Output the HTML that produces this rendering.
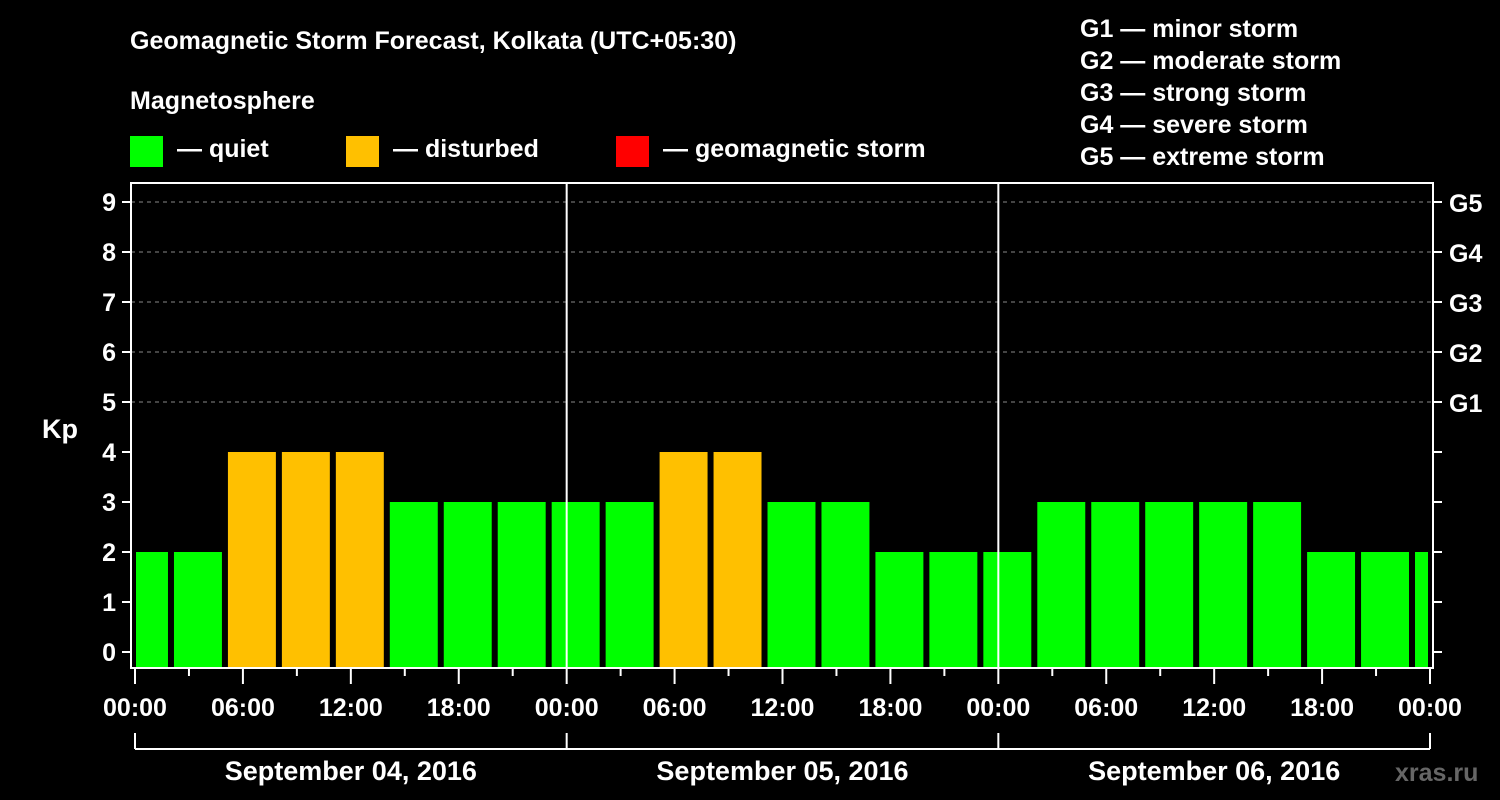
<!DOCTYPE html>
<html><head><meta charset="utf-8"><style>
html,body{margin:0;padding:0;background:#000;}
svg{display:block;font-family:"Liberation Sans",Arial,sans-serif;font-weight:bold;}
</style></head><body>
<svg id="chart" width="1500" height="800" viewBox="0 0 1500 800" xmlns="http://www.w3.org/2000/svg">
<rect width="1500" height="800" fill="#000"/>
<text x="130" y="49" fill="#fff" font-size="25">Geomagnetic Storm Forecast, Kolkata (UTC+05:30)</text>
<text x="130" y="109" fill="#fff" font-size="25">Magnetosphere</text>
<g>
<rect x="130" y="136" width="33" height="31" fill="#00ff00"/>
<text x="177" y="157" fill="#fff" font-size="25">— quiet</text>
<rect x="346" y="136" width="33" height="31" fill="#ffc000"/>
<text x="393" y="157" fill="#fff" font-size="25">— disturbed</text>
<rect x="616" y="136" width="33" height="31" fill="#ff0000"/>
<text x="663" y="157" fill="#fff" font-size="25">— geomagnetic storm</text>
</g>
<g fill="#fff" font-size="25">
<text x="1080" y="37">G1 — minor storm</text>
<text x="1080" y="69">G2 — moderate storm</text>
<text x="1080" y="101">G3 — strong storm</text>
<text x="1080" y="133">G4 — severe storm</text>
<text x="1080" y="165">G5 — extreme storm</text>
</g>
<text x="42" y="438" fill="#fff" font-size="27">Kp</text>
<text x="1395" y="781" fill="#666" font-size="25">xras.ru</text>
<g id="grid"></g>
<g id="bars"></g>
<g id="axes"></g>
</svg>
<script>
const kpValues = [2,2,4,4,4,3,3,3,3,3,4,4,3,3,2,2,2,3,3,3,3,3,2,2,2];
const firstBarStartHour = -1;
const yTicks = [0,1,2,3,4,5,6,7,8,9];
const gLabels = ["G1","G2","G3","G4","G5"];
const xTickLabels = ["00:00","06:00","12:00","18:00","00:00","06:00","12:00","18:00","00:00","06:00","12:00","18:00","00:00"];
const dayLabels = ["September 04, 2016","September 05, 2016","September 06, 2016"];

const NS = "http://www.w3.org/2000/svg";
const L = 131, R = 1433, T = 183, B = 668;
const X0 = 135, X1 = 1430, totalHours = 72;
const xs = h => X0 + (X1 - X0) * h / totalHours;
const ys = v => 652 - 50 * v;
function mk(parent, tag, attrs){const e=document.createElementNS(NS,tag);for(const k in attrs)e.setAttribute(k,attrs[k]);parent.appendChild(e);return e;}
const grid=document.getElementById('grid'), bars=document.getElementById('bars'), axes=document.getElementById('axes');

// gridlines for 5..9
yTicks.filter(v=>v>=5).forEach(v=>{
  const l=mk(grid,'line',{x1:L,x2:R,y1:ys(v),y2:ys(v),stroke:'#888','stroke-width':1,'stroke-dasharray':'4 4'});
  
  
});

// bars
kpValues.forEach((v,i)=>{
  const h0 = firstBarStartHour + 3*i;
  let x0 = xs(h0)+3, x1 = xs(h0+3)-3;
  x0 = Math.max(x0, L+5); x1 = Math.min(x1, R-5);
  const color = v>=5 ? '#ff0000' : (v>=4 ? '#ffc000' : '#00ff00');
  const r=mk(bars,'rect',{x:x0,y:ys(v),width:Math.max(0,x1-x0),height:B-ys(v),fill:color});
  
  
});

// day separators
[24,48].forEach(h=>{
  const l=mk(axes,'line',{x1:xs(h),x2:xs(h),y1:T,y2:B,stroke:'#fff','stroke-width':2});
  
  
});

// frame
const fr=mk(axes,'rect',{x:L,y:T,width:R-L,height:B-T,fill:'none',stroke:'#fff','stroke-width':2});



// y ticks
yTicks.forEach(v=>{
  const y=ys(v);
  mk(axes,'line',{x1:L-9,x2:L,y1:y,y2:y,stroke:'#fff','stroke-width':2});
  mk(axes,'line',{x1:R,x2:R+9,y1:y,y2:y,stroke:'#fff','stroke-width':2});
  const t=mk(axes,'text',{x:L-15,y:y+9,fill:'#fff','font-size':25,'text-anchor':'end'});
  t.textContent=v;
  
  
});
gLabels.forEach((g,i)=>{
  const t=mk(axes,'text',{x:R+16,y:ys(5+i)+10,fill:'#fff','font-size':25});
  t.textContent=g;
  
  
});

// x ticks
for(let h=0;h<=totalHours;h+=3){
  const major = h%6===0;
  mk(axes,'line',{x1:xs(h),x2:xs(h),y1:B,y2:B+(major?16:8),stroke:'#fff','stroke-width':2});
}
xTickLabels.forEach((s,i)=>{
  const t=mk(axes,'text',{x:xs(i*6),y:716,fill:'#fff','font-size':25,'text-anchor':'middle'});
  t.textContent=s;
  
  
});

// day bracket
mk(axes,'line',{x1:xs(0),x2:xs(72),y1:749,y2:749,stroke:'#fff','stroke-width':2});
[0,24,48,72].forEach(h=>mk(axes,'line',{x1:xs(h),x2:xs(h),y1:733,y2:749,stroke:'#fff','stroke-width':2}));
dayLabels.forEach((d,i)=>{
  const t=mk(axes,'text',{x:xs(i*24+12),y:780,fill:'#fff','font-size':27,'text-anchor':'middle'});
  t.textContent=d;
  
  
});
</script>
</body></html>
